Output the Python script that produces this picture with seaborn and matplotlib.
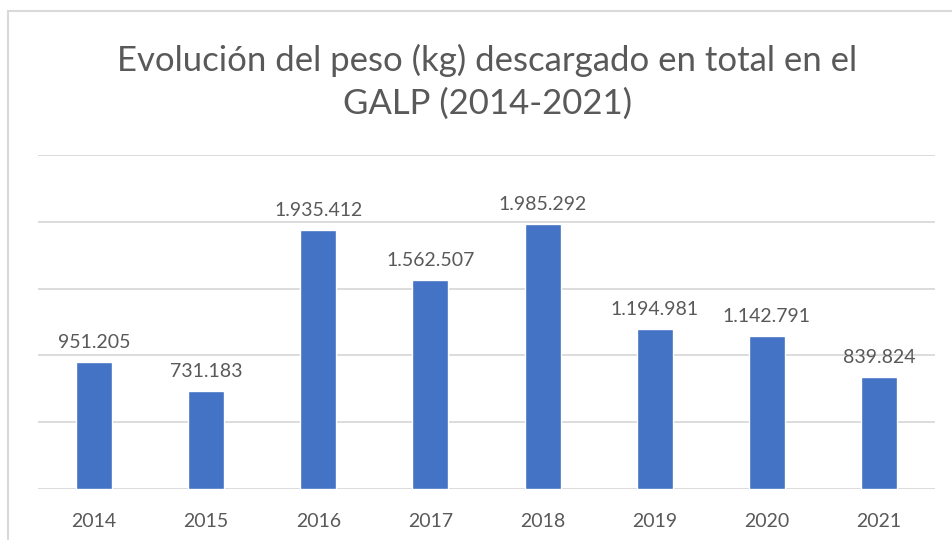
import matplotlib
matplotlib.use("Agg")
import matplotlib.pyplot as plt
import seaborn as sns
import pandas as pd
from matplotlib.patches import Rectangle

# data
years = ["2014", "2015", "2016", "2017", "2018", "2019", "2020", "2021"]
peso_kg = [951205, 731183, 1935412, 1562507, 1985292, 1194981, 1142791, 839824]

df = pd.DataFrame({"year": years, "kg": peso_kg})

sns.set_theme(style="white")
plt.rcParams["font.family"] = ["Lato", "DejaVu Sans"]

bar_color = "#4472C4"
text_color = "#595959"
grid_color = "#D9D9D9"

fig = plt.figure(figsize=(9.52, 5.4), dpi=100)
ax = fig.add_axes([38 / 952, 1 - 489 / 540, (935 - 38) / 952, (489 - 155) / 540])

sns.barplot(data=df, x="year", y="kg", color=bar_color, width=0.32,
            saturation=1, ax=ax)

ax.set_ylim(0, 2500000)
ax.set_yticks([0, 500000, 1000000, 1500000, 2000000, 2500000])
ax.set_xlim(-0.5, len(years) - 0.5)
ax.yaxis.grid(True, color=grid_color, linewidth=1.3)
ax.set_axisbelow(True)
ax.tick_params(axis="y", left=False, labelleft=False)
ax.tick_params(axis="x", bottom=False, labelsize=14, labelcolor=text_color, pad=11)
ax.set_xlabel("")
ax.set_ylabel("")
for s in ["top", "right", "left", "bottom"]:
    ax.spines[s].set_visible(False)

# data labels, Spanish thousands separator
for i, v in enumerate(peso_kg):
    ax.annotate(f"{v:,}".replace(",", "."), (i, v), xytext=(0, 8),
                textcoords="offset points", ha="center", va="bottom",
                fontsize=14, color=text_color)

fig.text(0.512, 1 - 82 / 540,
         "Evolución del peso (kg) descargado en total en el\nGALP (2014-2021)",
         ha="center", va="center", fontsize=25, color=text_color,
         linespacing=1.42)

# chart area border
fig.patches.append(Rectangle((8 / 952, -0.1), 1.2, 1.1 - 11 / 540,
                             transform=fig.transFigure, fill=False,
                             edgecolor="#D9D9D9", linewidth=1.5))

fig.savefig("out.png", dpi=100, facecolor="white")
